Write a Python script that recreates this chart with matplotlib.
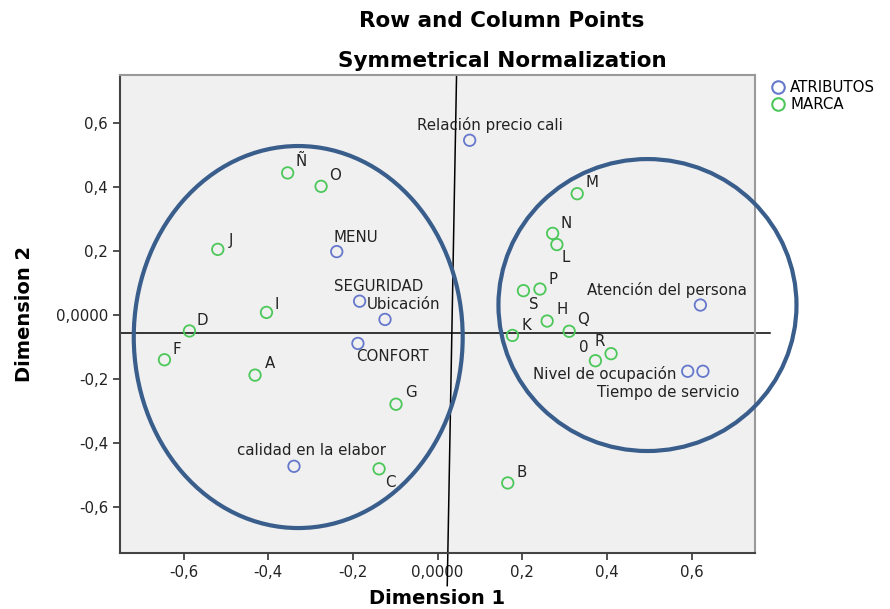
import matplotlib
matplotlib.use("Agg")
import matplotlib.pyplot as plt
from matplotlib.patches import Ellipse
from matplotlib.lines import Line2D

plt.rcParams['font.family'] = ['DejaVu Sans']

# ---- data ----
attr_labels = ["Relación precio cali", "MENU", "SEGURIDAD", "Ubicación", "CONFORT",
               "calidad en la elabor", "Atención del persona", "Nivel de ocupación",
               "Tiempo de servicio"]
attr_x = [0.076, -0.238, -0.184, -0.124, -0.188, -0.339, 0.621, 0.591, 0.627]
attr_y = [0.547, 0.199, 0.044, -0.013, -0.088, -0.472, 0.032, -0.175, -0.175]

brand_labels = ["Ñ", "O", "J", "I", "D", "F", "A", "G", "C", "M", "N", "L",
                "P", "S", "H", "Q", "K", "R", "0", "B"]
brand_x = [-0.354, -0.275, -0.519, -0.404, -0.586, -0.645, -0.431, -0.098, -0.138,
           0.330, 0.272, 0.282, 0.242, 0.203, 0.259, 0.311, 0.177, 0.410, 0.373, 0.166]
brand_y = [0.445, 0.403, 0.206, 0.009, -0.049, -0.139, -0.187, -0.278, -0.480,
           0.380, 0.256, 0.221, 0.082, 0.077, -0.018, -0.050, -0.063, -0.120, -0.142, -0.524]

x_ticks = [-0.6, -0.4, -0.2, 0.0, 0.2, 0.4, 0.6]
x_ticklabels = ["-0,6", "-0,4", "-0,2", "0,0000", "0,2", "0,4", "0,6"]
y_ticks = [-0.6, -0.4, -0.2, 0.0, 0.2, 0.4, 0.6]
y_ticklabels = ["-0,6", "-0,4", "-0,2", "0,0000", "0,2", "0,4", "0,6"]

# label offsets in pixels (style)
attr_off = [(20, 15), (19, 14), (19, 14.5), (19, 14.5), (35, -13.5), (18, 15.5),
            (-33, 15.5), (-83, -3), (-35, -21)]
brand_off = [(13, 11), (14, 11), (13, 9), (10, 8), (13, 10), (12, 10), (14.5, 11.5),
             (15, 12), (11, -13.5), (15, 11), (13, 10), (9, -12.5), (13, 10),
             (10, -13.5), (15, 11.5), (14, 11.5), (14, 10), (-11.5, 12), (-12, 13),
             (13.5, 10.5)]

blue = "#6678CC"
green = "#4CC85A"

fig = plt.figure(figsize=(8.9, 6.09), dpi=100)
ax = fig.add_axes([120/890, 1-553/609, (755-120)/890, (553-75)/609])
ax.set_facecolor("#F0F0F0")
ax.set_xlim(-0.75, 0.75)
ax.set_ylim(-0.743, 0.751)

ax.scatter(attr_x, attr_y, s=68, facecolors='none', edgecolors=blue, linewidths=1.3, zorder=3)
ax.scatter(brand_x, brand_y, s=68, facecolors='none', edgecolors=green, linewidths=1.3, zorder=3)

for lab, x, y, (dx, dy) in zip(attr_labels, attr_x, attr_y, attr_off):
    ax.annotate(lab, (x, y), xytext=(dx, dy), textcoords='offset pixels',
                ha='center', va='center', fontsize=10.8, color='#222222', zorder=4)
for lab, x, y, (dx, dy) in zip(brand_labels, brand_x, brand_y, brand_off):
    ax.annotate(lab, (x, y), xytext=(dx, dy), textcoords='offset pixels',
                ha='center', va='center', fontsize=10.8, color='#222222', zorder=4)

ax.set_xticks(x_ticks)
ax.set_xticklabels(x_ticklabels)
ax.set_yticks(y_ticks)
ax.set_yticklabels(y_ticklabels)
ax.tick_params(axis='both', direction='out', length=5, width=1.2, color='#333333',
               labelsize=10.8, labelcolor='#222222')
for side in ['left', 'bottom', 'top', 'right']:
    ax.spines[side].set_linewidth(1.5)
ax.spines['left'].set_color('#444444')
ax.spines['bottom'].set_color('#444444')
ax.spines['top'].set_color('#999999')
ax.spines['right'].set_color('#999999')

ax.set_xlabel("Dimension 1", fontsize=14, fontweight='bold', va='center')
ax.set_ylabel("Dimension 2", fontsize=14, fontweight='bold', va='center')
ax.xaxis.set_label_coords(0.5, (553-598)/478)
ax.yaxis.set_label_coords((25-120)/635, 0.5)

# hand-drawn reference lines
ax.plot([-0.75, 0.785], [-0.054, -0.054], color='black', lw=1.1, clip_on=False, zorder=2)
ax.plot([0.045, 0.023], [0.751, -0.845], color='black', lw=1.1, clip_on=False, zorder=2)

# ellipses
ax.add_patch(Ellipse((-0.329, -0.068), 0.777, 1.194, fill=False, edgecolor='#3A5E8C',
                     lw=3, clip_on=False, zorder=5))
ax.add_patch(Ellipse((0.496, 0.032), 0.704, 0.9125, fill=False, edgecolor='#3A5E8C',
                     lw=3, clip_on=False, zorder=5))

fig.text(502/890, 1-21/609, "Row and Column Points", ha='center', va='center',
         fontsize=15.5, fontweight='bold')
fig.text(502/890, 1-61/609, "Symmetrical Normalization", ha='center', va='center',
         fontsize=15.5, fontweight='bold')

handles = [Line2D([], [], ls='none', marker='o', markersize=9, markerfacecolor='none',
                  markeredgecolor=blue, markeredgewidth=1.5),
           Line2D([], [], ls='none', marker='o', markersize=9, markerfacecolor='none',
                  markeredgecolor=green, markeredgewidth=1.5)]
fig.legend(handles, ["ATRIBUTOS", "MARCA"], loc='upper left',
           bbox_to_anchor=(764/890, 1-73/609), frameon=False, fontsize=10.8,
           handlelength=0.8, handletextpad=0.45, labelspacing=0.1, borderpad=0)

fig.savefig("out.png", dpi=100)
